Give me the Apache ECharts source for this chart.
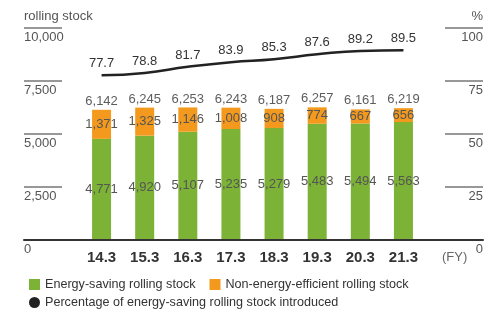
<!DOCTYPE html>
<html lang="en">
<head>
    <meta charset="UTF-8">
    <title>Rolling stock</title>
    <script src="https://cdn.jsdelivr.net/npm/echarts@6/dist/echarts.min.js"></script>
</head>
<body style="margin:0;background:#fff">
<div id="chart" style="width:500px;height:310px"></div>
<script>
    var years = ['14.3', '15.3', '16.3', '17.3', '18.3', '19.3', '20.3', '21.3'];
    var saving = [4771, 4920, 5107, 5235, 5279, 5483, 5494, 5563];
    var nonSaving = [1371, 1325, 1146, 1008, 908, 774, 667, 656];
    var totals = [6142, 6245, 6253, 6243, 6187, 6257, 6161, 6219];
    var percent = [77.7, 78.8, 81.7, 83.9, 85.3, 87.6, 89.2, 89.5];

    var font = "'Liberation Sans', Arial, sans-serif";
    var _chart = echarts.init(document.getElementById('chart'));

    var fmt = function (p) { return p.value.toLocaleString('en-US'); };

    var option = {
        animation: false,
        textStyle: {fontFamily: font},
        legend: [{
            left: 24, top: 273,
            itemWidth: 11, itemHeight: 11, itemGap: 14,
            textStyle: {fontSize: 12.6, color: '#333', fontFamily: font},
            data: [
                {name: 'Energy-saving rolling stock', icon: 'rect'},
                {name: 'Non-energy-efficient rolling stock', icon: 'rect'}
            ]
        }, {
            left: 24, top: 291,
            itemWidth: 11, itemHeight: 11,
            textStyle: {fontSize: 12.6, color: '#333', fontFamily: font},
            data: [{name: 'Percentage of energy-saving rolling stock introduced', icon: 'circle'}]
        }],
        grid: [
            {left: 24, right: 17, top: 28, bottom: 70},   // axis decoration
            {left: 80, right: 75, top: 28, bottom: 70}    // bars
        ],
        xAxis: [{
            type: 'category', gridIndex: 0, data: [''], z: 10,
            axisLine: {lineStyle: {color: '#333', width: 2}},
            axisTick: {show: false}, axisLabel: {show: false}
        }, {
            type: 'category', gridIndex: 1, data: years,
            axisLine: {show: false}, axisTick: {show: false},
            axisLabel: {fontSize: 15, fontWeight: 'bold', color: '#333', margin: 10},
            name: '(FY)', nameLocation: 'end', nameGap: 17,
            nameTextStyle: {fontSize: 13, color: '#666', verticalAlign: 'top', padding: [11, 0, 0, 0]}
        }],
        yAxis: [{
            type: 'value', gridIndex: 0, position: 'left', min: 0, max: 10000, interval: 2500,
            axisLine: {show: false},
            axisTick: {show: true, inside: true, length: 38, lineStyle: {color: '#777', width: 1.5}},
            splitLine: {show: false},
            axisLabel: {
                inside: true, margin: 0, align: 'left', verticalAlign: 'top', padding: [3, 0, 0, 0],
                fontSize: 13, color: '#555',
                formatter: function (v) { return v.toLocaleString('en-US'); }
            },
            name: 'rolling stock', nameLocation: 'end', nameGap: 5,
            nameTextStyle: {align: 'left', fontSize: 13, color: '#555'}
        }, {
            type: 'value', gridIndex: 0, position: 'right', min: 0, max: 100, interval: 25,
            axisLine: {show: false},
            axisTick: {show: true, inside: true, length: 38, lineStyle: {color: '#777', width: 1.5}},
            splitLine: {show: false},
            axisLabel: {
                inside: true, margin: 0, align: 'right', verticalAlign: 'top', padding: [3, 0, 0, 0],
                fontSize: 13, color: '#555'
            },
            name: '%', nameLocation: 'end', nameGap: 5,
            nameTextStyle: {align: 'right', fontSize: 13, color: '#555'}
        }, {
            type: 'value', gridIndex: 1, min: 0, max: 10000, show: false
        }, {
            type: 'value', gridIndex: 1, min: 0, max: 100, show: false
        }],
        series: [{
            name: 'Energy-saving rolling stock',
            type: 'bar', xAxisIndex: 1, yAxisIndex: 2, stack: 'stock',
            barWidth: 19,
            itemStyle: {color: '#7cb235'},
            label: {show: true, position: 'inside', color: '#555', fontSize: 13, formatter: fmt},
            data: saving
        }, {
            name: 'Non-energy-efficient rolling stock',
            type: 'bar', xAxisIndex: 1, yAxisIndex: 2, stack: 'stock',
            barWidth: 19,
            itemStyle: {color: '#f39a1e'},
            label: {show: true, position: 'inside', color: '#555', fontSize: 13, formatter: fmt},
            data: nonSaving
        }, {
            name: 'total',
            type: 'scatter', xAxisIndex: 1, yAxisIndex: 2,
            symbolSize: 0, silent: true,
            label: {show: true, position: 'top', distance: 2, color: '#333', fontSize: 13, formatter: fmt},
            data: totals
        }, {
            name: 'Percentage of energy-saving rolling stock introduced',
            type: 'line', xAxisIndex: 1, yAxisIndex: 3,
            smooth: true, showSymbol: true, symbol: 'circle', symbolSize: 0,
            lineStyle: {color: '#222', width: 2.5},
            itemStyle: {color: '#222'},
            label: {show: true, position: 'top', distance: 5, color: '#333', fontSize: 13},
            data: percent
        }]
    };
    _chart.setOption(option, true);
</script>
</body>
</html>
